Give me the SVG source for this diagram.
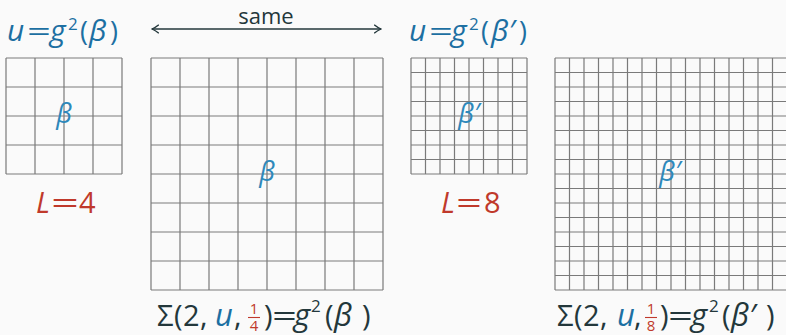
<svg xmlns="http://www.w3.org/2000/svg" width="786" height="335" viewBox="0 0 786 335">
<style>
.bg{fill:#fafafa}
.grid{fill:none;stroke:#7a7a7a;stroke-width:1.2}
text{font-family:"Open Sans","Noto Sans","DejaVu Sans",sans-serif}
.blue{fill:#1c6fa2}
.red{fill:#c0392b}
.dark{fill:#23373b}
.it{font-style:italic}
.beta{fill:#2e88ba;font-style:italic;font-size:27px;text-anchor:middle}
.top{font-size:27px}
.tit{font-size:30px;font-style:italic}
.bot{font-size:29px}
.bit{font-size:31px;font-style:italic}
.bb{font-size:31px;font-style:italic}
.sup{font-size:17px}
.frac{font-size:15px;text-anchor:middle}
.conn{fill:none;stroke:#23373b;stroke-width:1.3}
</style>
<defs>
<marker id="ah" viewBox="0 0 8 10" refX="7.3" refY="5" markerWidth="8" markerHeight="10" markerUnits="userSpaceOnUse" orient="auto-start-reverse">
<path d="M0.5 0.8Q4 3.6 7.3 5Q4 6.4 0.5 9.2" fill="none" stroke="#23373b" stroke-width="1.3"/>
</marker>
</defs>
<rect class="bg" width="786" height="335"/>

<g id="grid-L4">
<path class="grid" d="M6 58V174M35 58V174M64 58V174M93 58V174M122 58V174M6 58H122M6 87H122M6 116H122M6 145H122M6 174H122"/>
<text class="beta" x="64" y="123">β</text>
</g>

<g id="grid-sigma-beta">
<path class="grid" d="M151 58V290M180 58V290M209 58V290M238 58V290M267 58V290M296 58V290M325 58V290M354 58V290M383 58V290M151 58H383M151 87H383M151 116H383M151 145H383M151 174H383M151 203H383M151 232H383M151 261H383M151 290H383"/>
<text class="beta" x="267" y="181">β</text>
</g>

<g id="grid-L8">
<path class="grid" d="M411 58V174M425.5 58V174M440 58V174M454.5 58V174M469 58V174M483.5 58V174M498 58V174M512.5 58V174M527 58V174M411 58H527M411 72.5H527M411 87H527M411 101.5H527M411 116H527M411 130.5H527M411 145H527M411 159.5H527M411 174H527"/>
<text class="beta" x="469" y="123">β′</text>
</g>

<g id="grid-sigma-betap">
<path class="grid" d="M555 58V290M569.5 58V290M584 58V290M598.5 58V290M613 58V290M627.5 58V290M642 58V290M656.5 58V290M671 58V290M685.5 58V290M700 58V290M714.5 58V290M729 58V290M743.5 58V290M758 58V290M772.5 58V290M787 58V290M555 58H787M555 72.5H787M555 87H787M555 101.5H787M555 116H787M555 130.5H787M555 145H787M555 159.5H787M555 174H787M555 188.5H787M555 203H787M555 217.5H787M555 232H787M555 246.5H787M555 261H787M555 275.5H787M555 290H787"/>
<text class="beta" x="670" y="181">β′</text>
</g>

<g id="label-u-beta" class="blue">
<text class="top" y="41"><tspan class="tit" x="7">u</tspan><tspan x="50" class="tit">g</tspan><tspan class="sup" x="68" y="30">2</tspan><tspan x="80" y="41">(</tspan><tspan class="tit" x="89">β</tspan><tspan x="110">)</tspan></text>
<text class="top" x="27" y="41" textLength="24" lengthAdjust="spacingAndGlyphs">=</text>
</g>

<g id="label-u-betap" class="blue">
<text class="top" y="41"><tspan class="tit" x="409">u</tspan><tspan x="451" class="tit">g</tspan><tspan class="sup" x="469" y="30">2</tspan><tspan x="481" y="41">(</tspan><tspan class="tit" x="491">β′</tspan><tspan x="519">)</tspan></text>
<text class="top" x="429" y="41" textLength="24" lengthAdjust="spacingAndGlyphs">=</text>
</g>

<g id="label-L4" class="red">
<text class="bot" y="213"><tspan class="it" x="36">L</tspan><tspan x="79">4</tspan></text>
<text class="bot" x="51" y="213" textLength="28" lengthAdjust="spacingAndGlyphs">=</text>
</g>

<g id="label-L8" class="red">
<text class="bot" y="213"><tspan class="it" x="441">L</tspan><tspan x="484">8</tspan></text>
<text class="bot" x="456" y="213" textLength="26" lengthAdjust="spacingAndGlyphs">=</text>
</g>

<g id="label-sigma-4">
<text class="dark bot" y="326"><tspan x="157">Σ</tspan><tspan x="174">(</tspan><tspan x="183">2</tspan><tspan x="200">,</tspan><tspan x="215" class="blue bit">u</tspan><tspan x="234">,</tspan><tspan x="264">)</tspan><tspan x="294" class="bit">g</tspan><tspan class="sup" x="311" y="312">2</tspan><tspan x="325" y="326">(</tspan><tspan x="334" class="bb">β</tspan><tspan x="362">)</tspan></text>
<text class="dark bot" x="272" y="326" textLength="25" lengthAdjust="spacingAndGlyphs">=</text>
<text class="red frac"><tspan x="254" y="314">1</tspan><tspan x="254" y="331">4</tspan></text>
<path d="M248 317.5H260" stroke="#c0392b" stroke-width="1.1"/>
</g>

<g id="label-sigma-8">
<text class="dark bot" y="326"><tspan x="557">Σ</tspan><tspan x="574">(</tspan><tspan x="583">2</tspan><tspan x="600">,</tspan><tspan x="617" class="blue bit">u</tspan><tspan x="634">,</tspan><tspan x="660">)</tspan><tspan x="691" class="bit">g</tspan><tspan class="sup" x="709" y="312">2</tspan><tspan x="722" y="326">(</tspan><tspan x="731" class="bb">β′</tspan><tspan x="766">)</tspan></text>
<text class="dark bot" x="668" y="326" textLength="25" lengthAdjust="spacingAndGlyphs">=</text>
<text class="red frac"><tspan x="651" y="314">1</tspan><tspan x="651" y="331">8</tspan></text>
<path d="M645 317.5H657" stroke="#c0392b" stroke-width="1.1"/>
</g>

<g id="connectors">
<path class="conn" d="M152 29H381" marker-start="url(#ah)" marker-end="url(#ah)"/>
<text class="dark" x="266" y="24" font-size="22" text-anchor="middle">same</text>
</g>
</svg>
